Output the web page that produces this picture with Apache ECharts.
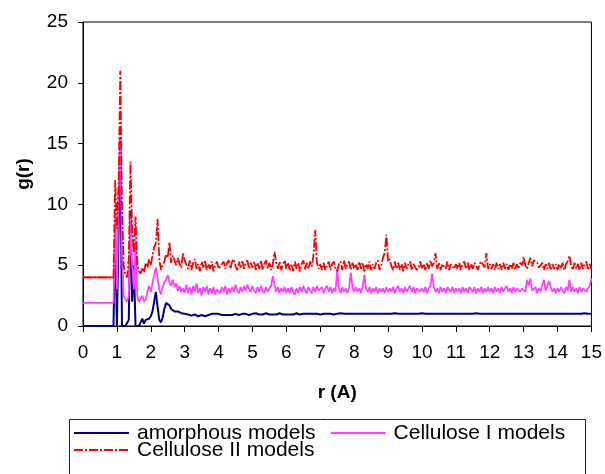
<!DOCTYPE html>
<html>
<head>
<meta charset="utf-8">
<script src="https://cdn.jsdelivr.net/npm/echarts@6/dist/echarts.min.js"></script>
<style>
html,body{margin:0;padding:0;background:#fff;}
#chart{width:605px;height:474px;}
</style>
</head>
<body>
<div id="chart"></div>
<script>
// sample grid of r (A): 0 .. 15 every 0.05
const rStep = 0.05;
const rCount = 301;
const xTicks = [0,1,2,3,4,5,6,7,8,9,10,11,12,13,14,15];
const yTicks = [0,5,10,15,20,25];
const seriesNames = ['amorphous models', 'Cellulose I models', 'Cellulose II models'];

const gAmorphous = [
0,0,0,0,0,0,0,0,0,0,0,0,0,0,0,0,0,0,0,
8.0,0,
0,15.5,0,0,0,0,0.5,9.5,2,5,0,0,0,0.3,0.6,0.2,0.5,0.4,0.6,0.8,
1.2,2.0,2.8,1.6,0.5,0.3,0.7,1.4,1.9,2.0,1.7,1.4,1.3,1.2,1.15,1.2,1.1,1.05,1.1,1.0,
1.05,0.95,0.9,0.85,0.9,0.95,0.85,0.8,0.85,0.9,0.85,0.8,0.85,0.9,0.95,1.0,1.05,1.0,0.95,1.0,
0.95,0.9,0.95,0.9,0.85,0.9,0.95,0.9,0.95,1.0,0.95,0.9,0.95,1.0,1.05,1.0,0.95,0.9,0.95,1.0,
1.0,1.05,1.0,0.95,1.0,0.95,1.0,1.05,1.0,0.95,1.0,0.95,0.9,0.95,1.0,1.05,1.0,0.95,1.0,0.95,
1.0,0.95,0.9,0.95,1.0,1.05,1.0,0.95,1.0,1.0,0.95,1.0,1.05,1.0,0.95,1.0,0.95,1.0,1.0,0.95,
1.0,1.0,0.95,1.0,1.05,1.0,1.0,0.95,1.0,1.0,1.0,1.05,1.0,1.0,0.95,1.0,1.0,1.0,1.05,1.0,
1.0,1.0,1.05,1.0,1.0,1.0,1.0,1.0,1.05,1.0,1.0,1.0,1.0,1.0,1.05,1.0,1.0,1.0,1.0,1.0,
1.0,1.0,1.0,1.05,1.0,1.0,1.0,1.0,1.0,1.0,1.05,1.0,1.0,1.0,1.0,1.0,1.0,1.0,1.0,1.05,
1.0,1.0,1.0,1.0,1.0,1.0,1.05,1.0,1.0,1.0,1.0,1.0,1.05,1.0,1.0,1.0,1.0,1.0,1.0,1.0,
1.0,1.0,1.05,1.0,1.0,1.0,1.0,1.0,1.0,1.0,1.0,1.05,1.0,1.0,1.0,1.0,1.0,1.0,1.0,1.0,
1.0,1.0,1.0,1.0,1.05,1.0,1.0,1.0,1.0,1.0,1.0,1.0,1.0,1.0,1.05,1.0,1.0,1.0,1.0,1.0,
1.0,1.0,1.0,1.0,1.05,1.0,1.0,1.0,1.0,1.0,1.0,1.0,1.0,1.0,1.0,1.0,1.0,1.0,1.0,1.0,
1.0,1.0,1.0,1.0,1.0,1.0,1.0,1.0,1.0,1.0,1.0,1.0,1.0,1.0,1.0,1.05,1.0,1.0,1.0,1.0
];

const gCelluloseI = [
1.9,1.9,1.9,1.9,1.9,1.9,1.9,1.9,1.9,1.9,1.9,1.9,1.9,1.9,1.9,1.9,1.9,1.9,1.9,
9,3,
11,15.5,6,2.5,2.2,2.0,2.5,9,5,3,7,2.5,2.0,2.2,2.5,2.0,2.2,2.8,3.3,2.8,
3.5,4.2,4.8,4.0,3.0,2.6,3.2,3.6,3.8,4.2,3.6,3.3,3.8,3.2,3.5,2.9,3.3,2.8,3.1,2.7,
3.4,2.7,3.2,2.6,3.3,2.8,3.5,2.7,3.1,2.5,3.2,2.8,3.3,2.6,3.1,2.7,3.2,2.6,3.0,2.9,
2.7,3.2,2.8,3.3,2.6,3.1,2.7,3.2,2.8,3.4,2.9,2.7,3.2,2.8,3.3,2.9,3.4,3.0,2.8,3.3,
2.9,2.7,3.2,2.8,3.3,2.9,2.7,3.2,2.8,3.1,3.3,4.1,3.4,2.8,3.2,2.7,3.1,2.8,3.2,2.7,
3.1,2.7,3.2,2.8,2.6,3.1,2.7,3.2,2.8,3.3,2.9,2.7,3.2,2.9,2.7,3.2,2.8,3.3,2.9,2.8,
3.2,2.7,3.1,3.3,2.8,3.2,2.7,3.1,2.8,4.7,3.1,2.7,3.2,2.8,3.1,2.7,3.1,4.4,3.2,2.8,
3.2,2.8,3.1,2.7,3.2,4.2,3.1,2.8,3.2,2.7,3.1,2.8,3.2,2.7,3.1,2.8,3.1,2.7,3.2,2.8,
3.1,2.8,3.2,2.7,3.1,3.3,2.8,3.1,2.7,3.2,2.8,3.1,3.3,2.8,3.2,2.7,3.1,3.2,2.8,3.1,
2.8,3.2,2.7,3.1,3.3,4.3,3.2,2.8,3.1,2.7,3.2,2.8,3.1,2.7,3.2,3.1,2.8,3.2,2.7,3.1,
2.8,3.1,2.7,3.2,2.8,3.1,2.7,3.2,3.1,2.8,3.2,2.7,3.1,2.8,3.2,2.7,3.1,2.8,3.2,2.8,
3.1,2.7,3.2,2.8,3.1,2.7,3.2,2.8,3.1,3.3,2.8,3.1,2.7,3.2,2.8,3.1,3.2,2.8,3.1,3.2,
2.8,3.8,3.3,3.9,2.9,2.8,3.2,2.7,3.1,2.8,3.4,3.8,2.9,2.8,3.7,3.2,2.8,3.1,2.7,3.1,
2.8,3.2,2.9,2.7,3.2,2.9,3.8,2.8,3.2,2.8,3.1,2.7,3.2,2.8,3.1,3.2,2.8,3.1,3.3,3.9
];

const gCelluloseII = [
4,4,4,4,4,4,4,4,4,4,4,4,4,4,4,4,4,4,4,
12,8,
11.5,21,10,5,4.2,4.0,5.5,13.5,8,6,9,5,4.5,4.3,4.8,4.4,5.2,4.8,5.5,5.0,
5.8,6.5,6.8,8.8,5.5,4.6,5.0,5.3,5.9,5.6,6.9,5.2,5.8,5.4,5.0,5.6,5.1,4.8,6.0,5.4,
5.3,4.7,5.4,4.6,5.2,5.5,4.7,5.1,4.5,5.3,4.8,5.4,4.6,5.1,4.7,5.3,4.5,5.0,5.3,4.7,
4.6,5.1,5.3,4.7,5.2,5.4,4.7,5.3,5.5,4.9,4.6,5.3,4.8,5.4,4.7,5.2,5.4,4.7,5.2,4.8,
5.3,4.6,5.2,4.7,5.4,4.6,5.1,5.4,4.7,5.2,4.6,5.1,6.1,5.2,4.7,5.3,4.6,5.1,5.4,4.7,
5.2,4.6,5.1,4.5,5.3,4.7,5.2,4.5,5.1,5.4,4.6,5.2,4.7,5.3,4.9,5.8,7.9,5.2,4.7,5.1,
4.6,5.2,4.6,5.0,5.3,4.6,5.1,5.3,4.7,4.5,5.1,5.3,4.6,5.4,4.7,5.1,5.3,4.6,5.2,4.7,
5.1,4.6,5.3,4.7,5.2,4.5,5.1,4.7,5.3,4.6,5.1,4.7,5.2,5.4,4.6,5.0,5.6,6.0,7.5,5.3,
5.5,4.9,4.6,5.3,4.7,5.2,4.6,5.1,4.5,5.2,4.7,5.1,5.3,4.6,5.1,5.2,4.6,4.8,5.3,4.7,
5.1,4.6,5.2,4.7,5.4,4.9,5.2,6.0,4.7,5.2,4.6,5.1,5.2,4.7,5.3,4.6,5.1,5.2,4.7,5.1,
4.7,5.2,4.6,5.1,5.3,4.7,5.2,4.6,5.1,4.7,5.2,5.0,4.6,5.1,5.3,5.2,4.8,6.0,4.7,5.1,
4.7,5.1,4.6,5.2,4.7,5.1,4.6,5.2,4.7,5.1,4.6,5.1,4.7,5.2,4.6,5.1,4.7,5.2,5.0,5.7,
5.0,4.7,5.2,5.6,4.9,5.4,5.5,5.2,4.8,4.7,5.2,4.6,5.1,4.7,5.2,4.6,5.1,4.7,5.1,4.6,
5.1,4.7,5.2,4.6,5.1,5.3,5.8,5.0,4.6,5.2,4.7,5.1,4.6,5.2,4.7,5.1,5.3,4.6,5.1,4.7
];

// number of leading samples that form the flat lead-in (drawn solid, as in the original)
const leadIn = 19;

const r = Array.from({length: rCount}, (_, i) => +(i * rStep).toFixed(2));
const pairs = g => r.map((x, i) => [x, g[i]]);

const FONT = "'Liberation Sans', Arial, sans-serif";
const legendCommon = {
  left: 73, padding: 0, itemGap: 14, itemWidth: 55, itemHeight: 14,
  itemStyle: {opacity: 0, borderWidth: 0},
  textStyle: {fontFamily: FONT, fontSize: 21, color: '#000', lineHeight: 22, padding: [0, 0, 0, 3]}
};
const chart = echarts.init(document.getElementById('chart'), null, {renderer: 'canvas'});
chart.setOption({
  animation: false,
  backgroundColor: '#fff',
  grid: {left: 83, right: 12, top: 22, bottom: 148, show: true, borderColor: '#000', borderWidth: 1, backgroundColor: 'transparent'},
  xAxis: {
    type: 'value', min: xTicks[0], max: xTicks[xTicks.length - 1], interval: 1,
    name: 'r (A)', nameLocation: 'middle', nameGap: 57,
    nameTextStyle: {fontFamily: FONT, fontSize: 19, fontWeight: 'bold', color: '#000'},
    axisLine: {lineStyle: {color: '#000', width: 1}},
    axisTick: {inside: false, length: 6, lineStyle: {color: '#000'}},
    axisLabel: {margin: 17, fontFamily: FONT, fontSize: 19, color: '#000'},
    splitLine: {show: false}
  },
  yAxis: {
    type: 'value', min: yTicks[0], max: yTicks[yTicks.length - 1], interval: 5,
    name: 'g(r)', nameLocation: 'middle', nameGap: 50,
    nameTextStyle: {fontFamily: FONT, fontSize: 19, fontWeight: 'bold', color: '#000'},
    axisLine: {show: true, lineStyle: {color: '#000', width: 1}},
    axisTick: {show: true, inside: false, length: 5, lineStyle: {color: '#000'}},
    axisLabel: {margin: 15, fontFamily: FONT, fontSize: 19, color: '#000'},
    splitLine: {show: false}
  },
  legend: [
    Object.assign({data: [seriesNames[0], seriesNames[1]], top: 422}, legendCommon),
    Object.assign({data: [seriesNames[2]], top: 439}, legendCommon)
  ],
  graphic: [
    {type: 'rect', left: 67, top: 417, silent: true, z: -1,
     shape: {width: 516, height: 80}, style: {fill: 'none', stroke: '#222', lineWidth: 1}}
  ],
  series: [
    {name: seriesNames[0], type: 'line', symbol: 'none', data: pairs(gAmorphous),
     lineStyle: {color: '#000080', width: 2}, itemStyle: {color: '#000080'}},
    {name: seriesNames[1], type: 'line', symbol: 'none', data: pairs(gCelluloseI),
     lineStyle: {color: '#FF40FF', width: 1.8}, itemStyle: {color: '#FF40FF'}},
    {name: seriesNames[2], type: 'line', symbol: 'none', data: pairs(gCelluloseII),
     lineStyle: {color: '#FF0000', width: 1.8, type: [9, 2, 2, 2]}, itemStyle: {color: '#FF0000'}},
    {name: 'lead-in', type: 'line', symbol: 'none', data: pairs(gCelluloseII).slice(0, leadIn),
     lineStyle: {color: '#FF0000', width: 1.8}, itemStyle: {color: '#FF0000'}}
  ]
});
</script>
</body>
</html>
